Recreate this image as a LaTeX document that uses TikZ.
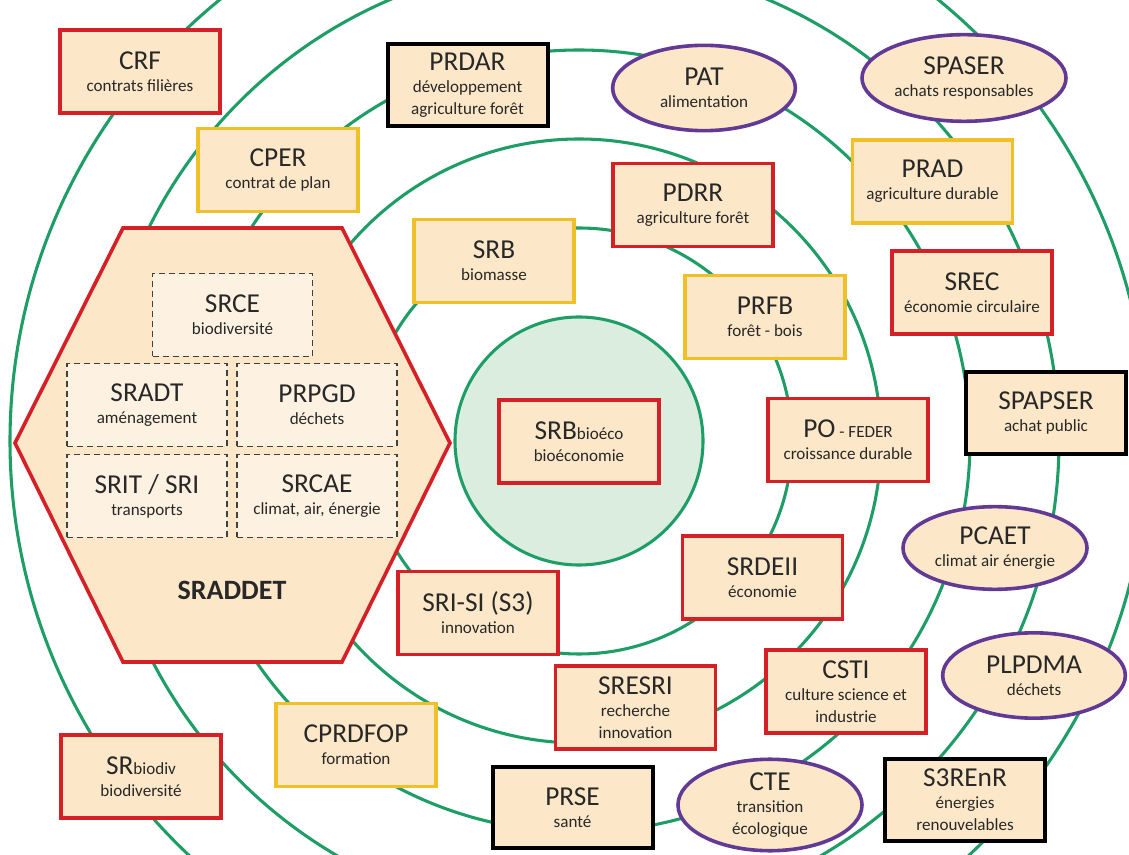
\documentclass[tikz,border=0pt]{standalone}
\usepackage{fontspec}
\setmainfont{Carlito}
\usetikzlibrary{shapes.geometric}
\definecolor{ringgreen}{RGB}{30,158,102}
\definecolor{innerfill}{RGB}{218,237,222}
\definecolor{boxfill}{RGB}{252,232,200}
\definecolor{dashfill}{RGB}{253,242,225}
\definecolor{redline}{RGB}{212,32,38}
\definecolor{yellowline}{RGB}{240,192,40}
\definecolor{purpleline}{RGB}{98,58,150}
\definecolor{txt}{RGB}{40,40,40}
\newcommand\subfnt{\fontsize{12.8}{16.5}\selectfont}
\newcommand\T[1]{{\fontsize{20.5}{16.5}\selectfont #1}}
\newcommand\smallfnt{\fontsize{12.8}{16.5}\selectfont}
\tikzset{
  ring/.style={draw=ringgreen, line width=2.3pt},
  base/.style={fill=boxfill, line width=2.7pt, inner sep=0pt, align=center,
    text=txt, font=\subfnt},
  redbox/.style={base, rectangle, draw=redline, minimum width=120pt, minimum height=62pt},
  yellowbox/.style={base, rectangle, draw=yellowline, minimum width=120pt, minimum height=62pt},
  blackbox/.style={base, rectangle, draw=black, line width=3pt, minimum width=120pt, minimum height=61pt},
  purpleell/.style={base, ellipse, draw=purpleline, minimum width=137pt, minimum height=64pt},
  dashbox/.style={base, rectangle, fill=dashfill, draw=black!75, line width=1.1pt,
    dash pattern=on 4.5pt off 3pt, minimum width=120pt, minimum height=62pt},
}
\begin{document}
\begin{tikzpicture}[x=0.75pt,y=-0.75pt]
\useasboundingbox (0,0) rectangle (1129,855);
\begin{scope}
\clip (0,0) rectangle (1129,855);
\fill[white] (0,0) rectangle (1129,855);
\coordinate (c) at (579,441);
\draw[ring] (c) circle[radius=426.75pt];
\draw[ring] (c) circle[radius=360pt];
\draw[ring] (c) circle[radius=293.25pt];
\draw[ring] (c) circle[radius=226.5pt];
\draw[ring] (c) circle[radius=159.75pt];
\draw[ring, fill=innerfill] (c) circle[radius=93pt];
\end{scope}

% hexagon SRADDET
\draw[fill=boxfill, draw=redline, line width=2.7pt, line join=miter]
  (15,443) -- (123,228) -- (342,228) -- (450,443) -- (342,662) -- (123,662) -- cycle;
\node[dashbox] (srce)  at (232.5,315) {\T{SRCE}\\biodiversité};
\node[dashbox] (sradt) at (147,405) {\T{SRADT}\\aménagement};
\node[dashbox] (prpgd) at (317,405) {\T{PRPGD}\\déchets};
\node[dashbox] (srit)  at (147,496) {\T{SRIT / SRI}\\transports};
\node[dashbox] (srcae) at (317,496) {\T{SRCAE}\\climat, air, énergie};
\node[text=txt, font=\fontsize{21}{24}\selectfont\bfseries] (sraddet) at (232,590) {SRADDET};

% boxes
\node[redbox] (crf) at (140,71.5) {\T{CRF}\\contrats filières};
\node[yellowbox] (cper) at (278,170) {\T{CPER}\\contrat de plan};
\node[blackbox] (prdar) at (467.5,85) {\T{PRDAR}\\développement\\agriculture forêt};
\node[purpleell] (pat) at (704,88) {\T{PAT}\\alimentation};
\node[purpleell, minimum width=153pt, minimum height=65pt] (spaser) at (964,78) {\T{SPASER}\\achats responsables};
\node[yellowbox] (prad) at (932.5,181.5) {\T{PRAD}\\agriculture durable};
\node[redbox] (pdrr) at (693,205) {\T{PDRR}\\agriculture forêt};
\node[yellowbox] (srb) at (494,261) {\T{SRB}\\biomasse};
\node[redbox] (srec) at (972,292.5) {\T{SREC}\\économie circulaire};
\node[yellowbox] (prfb) at (765,317) {\T{PRFB}\\forêt - bois};
\node[blackbox] (spapser) at (1046,413) {\T{SPAPSER}\\achat public};
\node[redbox] (po) at (848,440) {\T{PO}{\smallfnt\ - FEDER}\\croissance durable};
\node[redbox] (srbbio) at (579,441.5) {\T{SRB}{\smallfnt bioéco}\\bioéconomie};
\node[redbox] (srdeii) at (762.5,577.5) {\T{SRDEII}\\économie};
\node[purpleell, minimum width=138pt, minimum height=62pt] (pcaet) at (995,548) {\T{PCAET}\\climat air énergie};
\node[redbox] (srisi) at (478,613) {\T{SRI-SI (S3)}\\innovation};
\node[redbox] (csti) at (846,691.5) {\T{CSTI}\\culture science et\\industrie};
\node[purpleell] (plpdma) at (1034,675.5) {\T{PLPDMA}\\déchets};
\node[redbox] (sresri) at (635.5,707.5) {\T{SRESRI}\\recherche\\innovation};
\node[yellowbox] (cprdfop) at (356,745) {\T{CPRDFOP}\\formation};
\node[redbox] (srbiodiv) at (141,776.5) {\T{SR}{\smallfnt biodiv}\\biodiversité};
\node[blackbox] (prse) at (572.5,807.5) {\T{PRSE}\\santé};
\node[purpleell, minimum width=138pt, minimum height=63pt] (cte) at (770,805) {\T{CTE}\\transition\\écologique};
\node[blackbox, minimum height=62pt] (s3renr) at (965,800) {\T{S3REnR}\\énergies\\renouvelables};
\end{tikzpicture}
\end{document}
